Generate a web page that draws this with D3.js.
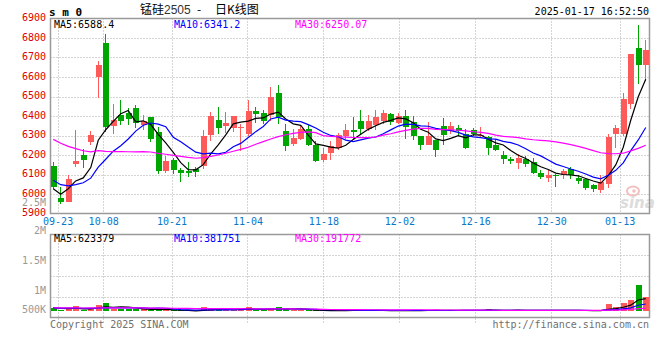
<!DOCTYPE html>
<html><head><meta charset="utf-8">
<script src="https://cdn.jsdelivr.net/npm/d3@7"></script>
<style>html,body{margin:0;padding:0;background:#fff;}svg{display:block;}</style>
</head><body><svg id="c" width="660" height="360"></svg>
<script>
// ---------- DATA ----------
const dates = [
"09-20","09-23","09-24","09-25","09-26","09-27","09-30",
"10-08","10-09","10-10","10-11","10-14","10-15","10-16","10-17","10-18",
"10-21","10-22","10-23","10-24","10-25","10-28","10-29","10-30","10-31","11-01",
"11-04","11-05","11-06","11-07","11-08","11-11","11-12","11-13","11-14","11-15",
"11-18","11-19","11-20","11-21","11-22","11-25","11-26","11-27","11-28","11-29",
"12-02","12-03","12-04","12-05","12-06","12-09","12-10","12-11","12-12","12-13",
"12-16","12-17","12-18","12-19","12-20","12-23","12-24","12-25","12-26","12-27",
"12-30","12-31","01-02","01-03","01-06","01-07","01-08","01-09","01-10",
"01-13","01-14","01-15","01-16","01-17"];
const tickLabels = ["09-23","10-08","10-21","11-04","11-18","12-02","12-16","12-30","01-13"];

const opens = [6142,5980,5959,6154,6198,6267,6600,6773,6350,6404,6416,6439,6355,6393,6316,6118,
6173,6122,6120,6126,6143,6301,6382,6349,6339,6340,6308,6424,6416,6407,6520,
6322,6257,6281,6335,6250,6173,6211,6238,6296,6327,6373,6334,6353,6375,6409,6365,
6401,6367,6295,6249,6275,6350,6321,6341,6309,6326,6300,6292,6253,6201,6181,6159,
6178,6164,6109,6082,6099,6096,6126,6082,6079,6044,6019,6053,6306,6306,6460,6750,6663];
const highs = [6164,6038,6099,6326,6232,6321,6682,6819,6460,6480,6443,6456,6405,6396,6344,6195,
6185,6134,6165,6136,6327,6421,6445,6419,6400,6361,6481,6446,6433,6549,6561,
6361,6332,6353,6353,6271,6236,6271,6313,6358,6395,6430,6407,6430,6430,6417,6416,
6432,6398,6295,6367,6278,6392,6367,6352,6333,6341,6343,6299,6282,6218,6188,6206,
6193,6185,6121,6121,6103,6126,6138,6099,6080,6050,6096,6309,6352,6518,6720,6865,6788];
const lows = [6027,5949,5957,6138,6133,6250,6492,6318,6310,6352,6356,6340,6330,6267,6103,6107,
6105,6062,6088,6085,6129,6271,6310,6313,6318,6221,6296,6364,6361,6375,6358,
6221,6245,6276,6245,6165,6163,6173,6225,6284,6276,6310,6324,6330,6358,6353,6358,
6282,6275,6227,6249,6188,6253,6307,6295,6230,6295,6287,6198,6218,6154,6154,6130,
6138,6104,6075,6062,6036,6079,6075,6053,6022,6010,6007,6032,6238,6297,6438,6566,6579];
const closes = [6036,5959,6075,6169,6174,6301,6660,6344,6381,6374,6383,6366,6373,6284,6120,6167,
6122,6109,6108,6114,6300,6399,6339,6363,6399,6343,6424,6409,6375,6498,6395,
6245,6286,6335,6250,6170,6204,6245,6305,6327,6318,6335,6373,6395,6416,6370,6399,
6346,6295,6249,6295,6228,6304,6350,6321,6236,6307,6305,6236,6228,6180,6167,6184,
6152,6110,6085,6099,6090,6116,6097,6065,6030,6025,6060,6290,6340,6485,6716,6663,6738];
const volumes = [190000,83000,190000,280000,83000,190000,325000,414000,159000,159000,159000,159000,159000,83000,172000,114000,
83000,56000,56000,56000,235000,190000,172000,146000,114000,190000,235000,83000,83000,190000,235000,
190000,114000,83000,83000,83000,83000,90000,85000,88000,140000,86000,92000,88000,90000,86000,84000,
92000,88000,90000,95000,90000,100000,92000,88000,110000,90000,85000,140000,95000,100000,90000,98000,
92000,105000,88000,96000,90000,86000,105650,82000,84000,80000,84615,370000,235200,414400,548800,1234200,684295];
// closes / volumes of the 29 sessions before 09-20 (estimated from the MA lines at the left edge)
const priorCloses = [6560,6540,6520,6500,6480,6470,6442,6420,6400,6390,6370,6350,6340,6320,6310,
6290,6280,6260,6240,6218,6180,6140,6100,6080,6065,6099,5935,5969,6096];
const priorVolumes = [180000,210000,195000,220000,170000,240000,205000,190000,230000,215000,185000,200000,250000,210000,195000,
225000,180000,205000,240000,200000,190000,215000,230000,185000,210000,260000,220000,195000,205000];

const priceTicks = [5900,6000,6100,6200,6300,6400,6500,6600,6700,6800,6900];
const volTicks = [2500000,2000000,1500000,1000000,500000];
const volTickLabels = ["2.5M","2M","1.5M","1M","500K"];
const maPeriods = [5,10,30];
const maColors = ["#000000","#0000ff","#ff00ff"];
const titleName = "锰硅", titleCode = "2505", titleKind = "日K线图";
const stamp = "2025-01-17 16:52:50";

// ---------- LAYOUT ----------
const L = 50.5, R = 649.5, pT = 18.5, pB = 213.5, vT = 234.5, vB = 317.5;
const RED = "#ff5a5a", GREEN = "#00a600", GRID = "#aaaaaa", FRAME = "#9a9a9a";
const MONO = "'DejaVu Sans Mono', monospace";

const svg = d3.select("#c");
svg.append("rect").attr("width",660).attr("height",360).attr("fill","#fff");

const x = d3.scaleBand().domain(dates).range([49.5, 649.5]).paddingInner(0.2).paddingOuter(0.1);
const xGrid = d3.scalePoint().domain(dates).range([50, 650]);
const y = d3.scaleLinear().domain([5900, 6900]).range([pB, pT]);
const vy = d3.scaleLinear().domain([0, 3.5e6]).range([312.5, 234.5]);
const vLabelY = d3.scaleLinear().domain([0, 2.5e6]).range([351, 201]);
const cx = d => x(d) + x.bandwidth()/2;
const snap = v => Math.round(v) + 0.5;

function movingAvg(prior, vals, n){
  const all = prior.concat(vals);
  return vals.map((v,i)=>{ const end = prior.length + i; let s = 0; for(let k=end-n+1;k<=end;k++) s += all[k]; return s/n; });
}
const priceMA = maPeriods.map(n => movingAvg(priorCloses, closes, n));
const volMA = maPeriods.map(n => movingAvg(priorVolumes, volumes, n));

// ---------- GRID ----------
const grid = svg.append("g").attr("stroke", GRID).attr("stroke-dasharray","1,2").attr("fill","none");
priceTicks.filter(t => t>5900 && t<6900).forEach(t=>{
  grid.append("line").attr("x1",L).attr("x2",R).attr("y1",snap(y(t))).attr("y2",snap(y(t)));
});
d3.range(1,4).forEach(k=>{
  const yy = snap(vT + k*(vB-vT)/4);
  grid.append("line").attr("x1",L).attr("x2",R).attr("y1",yy).attr("y2",yy);
});
tickLabels.forEach(t=>{
  const gx = snap(xGrid(t));
  grid.append("line").attr("x1",gx).attr("x2",gx).attr("y1",pT).attr("y2",pB);
  grid.append("line").attr("x1",gx).attr("x2",gx).attr("y1",vT).attr("y2",vB+5);
});

// watermark
const wm = svg.append("g");
wm.append("ellipse").attr("cx",633).attr("cy",191).attr("rx",6).attr("ry",4.5)
  .attr("fill","none").attr("stroke","#f3c0c0").attr("stroke-width",2);
wm.append("circle").attr("cx",634).attr("cy",191).attr("r",1.8).attr("fill","#f3c0c0");
wm.append("text").attr("x",620).attr("y",208).attr("font-family","'DejaVu Sans', sans-serif")
  .attr("font-size",15).attr("font-weight","bold").attr("font-style","italic").attr("fill","#dcdcdc").text("sina");

// frames
svg.append("rect").attr("x",L).attr("y",pT).attr("width",R-L).attr("height",pB-pT)
  .attr("fill","none").attr("stroke",FRAME).attr("stroke-width",1.5);
svg.append("rect").attr("x",L).attr("y",vT).attr("width",R-L).attr("height",vB-vT)
  .attr("fill","none").attr("stroke",FRAME).attr("stroke-width",1.5);

// ---------- CANDLES ----------
const data = dates.map((d,i)=>({d, o:opens[i], h:highs[i], l:lows[i], c:closes[i], v:volumes[i]}));
const col = r => r.c >= r.o ? RED : GREEN;
const cg = svg.append("g").attr("shape-rendering","crispEdges");
cg.selectAll("line.wick").data(data).join("line").attr("class","wick")
  .attr("x1",r=>snap(cx(r.d)-0.5)).attr("x2",r=>snap(cx(r.d)-0.5))
  .attr("y1",r=>y(r.h)).attr("y2",r=>y(r.l)).attr("stroke",col).attr("stroke-width",1);
cg.selectAll("rect.body").data(data).join("rect").attr("class","body")
  .attr("x",r=>Math.round(cx(r.d)-0.5)-2.5).attr("width",6)
  .attr("y",r=>y(Math.max(r.o,r.c))).attr("height",r=>Math.max(1, Math.abs(y(r.o)-y(r.c))))
  .attr("fill",col);

// volume bars
cg.selectAll("rect.vol").data(data).join("rect").attr("class","vol")
  .attr("x",r=>Math.round(cx(r.d)-0.5)-2.5).attr("width",6)
  .attr("y",r=>Math.min(vy(r.v), 309.5)).attr("height",r=>311 - Math.min(vy(r.v), 309.5))
  .attr("fill",col);

// ---------- MA LINES ----------
priceMA.forEach((ma,k)=>{
  svg.append("path").datum(ma).attr("fill","none").attr("stroke",maColors[k]).attr("stroke-width",1.2)
    .attr("d", d3.line().x((v,i)=>cx(dates[i])).y(v=>y(v)));
});
volMA.forEach((ma,k)=>{
  svg.append("path").datum(ma).attr("fill","none").attr("stroke",maColors[k]).attr("stroke-width",1.2)
    .attr("d", d3.line().x((v,i)=>cx(dates[i])).y(v=>vy(v)));
});

// ---------- AXES / TEXT ----------
const ya = svg.append("g").attr("transform","translate(47,0)")
  .call(d3.axisLeft(y).tickValues(priceTicks).tickSize(0).tickPadding(1).tickFormat(d3.format("d")));
ya.select(".domain").remove();
ya.attr("font-family",MONO).attr("font-size",10);
ya.selectAll("text").attr("fill","#dd0000").attr("dy","0.2em");

const xa = svg.append("g").attr("transform",`translate(0,${pB})`)
  .call(d3.axisBottom(xGrid).tickValues(tickLabels).tickSize(0).tickPadding(4));
xa.select(".domain").remove();
xa.attr("font-family",MONO).attr("font-size",10);
xa.selectAll("text").attr("fill","#0a78c8");

const vl = svg.append("g").attr("font-family",MONO).attr("font-size",10).attr("fill","#999").attr("text-anchor","end");
volTicks.forEach((t,i)=>{
  vl.append("text").attr("x",46).attr("y",Math.min(Math.max(vLabelY(t),202.5),310)).attr("dy","0.32em").text(volTickLabels[i]);
});

function maLabels(yy, vals, fmts){
  const xs = [54, 174, 295];
  maPeriods.forEach((n,k)=>{
    svg.append("text").attr("x",xs[k]).attr("y",yy).attr("font-family",MONO).attr("font-size",10)
      .attr("fill",maColors[k]).text(`MA${n}:` + fmts[k](vals[k]));
  });
}
maLabels(28, priceMA.map(a=>a[a.length-1]), [v=>v.toFixed(1), v=>v.toFixed(1), v=>v.toFixed(2)]);
maLabels(242, volMA.map(a=>a[a.length-1]), [v=>Math.round(v), v=>Math.round(v), v=>Math.round(v)]);

// title
const title = svg.append("text").attr("y",14).attr("font-family","'Noto Sans CJK SC', sans-serif")
  .attr("font-size",12).attr("fill","#000");
title.append("tspan").attr("x",140).text(titleName);
title.append("tspan").attr("font-family","'Liberation Sans', Arial, sans-serif").attr("fill","#333").text(titleCode);
title.append("tspan").attr("x",197).text("-");
title.append("tspan").attr("x",215).text(titleKind);

svg.append("text").attr("x",49).attr("y",16).attr("font-family",MONO).attr("font-size",11)
  .attr("font-weight","bold").attr("fill","#000").text("s m 0");
svg.append("text").attr("x",649).attr("y",15).attr("text-anchor","end").attr("font-family",MONO)
  .attr("font-size",10).attr("fill","#000").text(stamp);

svg.append("text").attr("x",50).attr("y",327.5).attr("font-family",MONO).attr("font-size",10)
  .attr("fill","#707070").text("Copyright 2025 SINA.COM");
svg.append("text").attr("x",649).attr("y",327.5).attr("text-anchor","end").attr("font-family",MONO).attr("font-size",10)
  .attr("fill","#707070").text("http://finance.sina.com.cn");
</script></body></html>
